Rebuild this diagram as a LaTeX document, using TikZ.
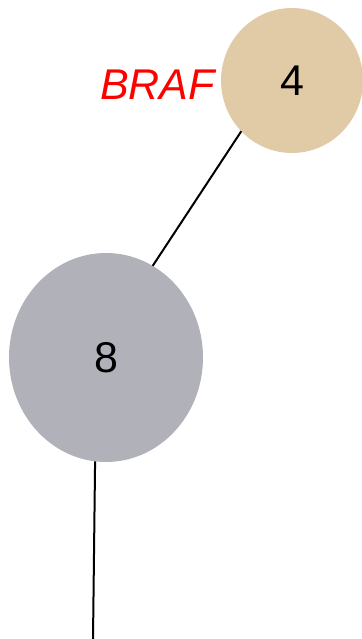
\documentclass[tikz,border=0pt]{standalone}
\usepackage{fontspec}
\setmainfont{Liberation Sans}
\usetikzlibrary{shapes.geometric}
\definecolor{tan4}{HTML}{E1CBA7}
\definecolor{gray8}{HTML}{B1B1B9}
\begin{document}
\begin{tikzpicture}[x=1pt,y=-1pt,
  blob/.style={ellipse,inner sep=0pt,outer sep=0pt,font=\fontsize{43}{43}\selectfont},
  edge/.style={draw=black,line width=2pt}]
\useasboundingbox (0,0) rectangle (361,639);
\node[blob,fill=tan4,minimum width=142pt,minimum height=145pt] (n4) at (292,80.5) {4};
\node[blob,fill=gray8,minimum width=194pt,minimum height=209pt] (n8) at (106,357.5) {8};
\node[anchor=base east,inner sep=0pt,text=red,font=\fontsize{43}{43}\selectfont\itshape] (braf) at (215,100) {BRAF};
\coordinate (end) at (93,639);
\draw[edge] (n4.225.6) -- (n8.63.3);
\draw[edge] (n8.264) -- (end);
\end{tikzpicture}
\end{document}
